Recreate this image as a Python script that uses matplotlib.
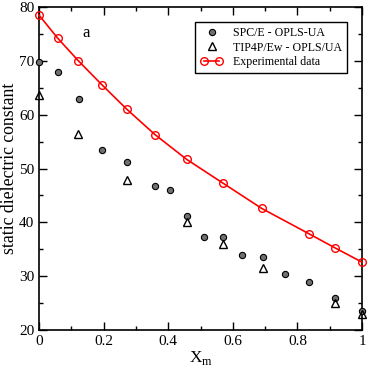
import matplotlib
matplotlib.use("Agg")
import matplotlib.pyplot as plt
from matplotlib.ticker import MultipleLocator
from matplotlib.legend_handler import HandlerLine2D

plt.rcParams['font.family'] = ['Liberation Serif', 'DejaVu Serif']
plt.rcParams['mathtext.fontset'] = 'custom'
plt.rcParams['mathtext.rm'] = 'Liberation Serif'

# experimental dielectric constant
x_exp = [0.0, 0.058, 0.122, 0.194, 0.272, 0.359, 0.457, 0.569, 0.689, 0.835, 0.915, 1.0]
eps_exp = [78.5, 74.2, 70.0, 65.6, 61.0, 56.3, 51.7, 47.3, 42.6, 37.9, 35.3, 32.6]

# SPC/E - OPLS-UA
x_spce = [0.0, 0.058, 0.125, 0.194, 0.271, 0.359, 0.405, 0.457, 0.511, 0.569, 0.627, 0.693, 0.761, 0.835, 0.915, 1.0]
eps_spce = [69.8, 68.0, 62.9, 53.4, 51.2, 46.8, 46.0, 41.2, 37.2, 37.2, 33.9, 33.6, 30.4, 28.9, 26.0, 23.6]

# TIP4P/Ew - OPLS/UA
x_tip = [0.0, 0.122, 0.272, 0.457, 0.569, 0.693, 0.915, 1.0]
eps_tip = [63.6, 56.5, 47.8, 40.1, 36.0, 31.5, 25.1, 23.0]

fig = plt.figure(figsize=(3.68, 3.70), dpi=100)
ax = fig.add_axes([0.106, 0.108, 0.878, 0.873])

ax.plot(x_spce, eps_spce, 'o', color='#707070', mec='black', mew=0.8, ms=4.5,
        ls='none', label='SPC/E - OPLS-UA', clip_on=False, zorder=3)
ax.plot(x_tip, eps_tip, '^', mfc='none', mec='black', mew=1.0, ms=6,
        ls='none', label='TIP4P/Ew - OPLS/UA', clip_on=False, zorder=3)
exp_line, = ax.plot(x_exp, eps_exp, 'o-', color='red', mfc='none', mec='red', mew=1.0,
                    ms=5.5, lw=1.2, label='Experimental data', clip_on=False, zorder=4)

ax.set_xlim(0, 1)
ax.set_ylim(20, 80)
ax.xaxis.set_major_locator(MultipleLocator(0.2))
ax.xaxis.set_minor_locator(MultipleLocator(0.1))
ax.yaxis.set_major_locator(MultipleLocator(10))
ax.yaxis.set_minor_locator(MultipleLocator(5))
ax.set_xticks([0, 0.2, 0.4, 0.6, 0.8, 1.0])
ax.set_xticklabels(['0', '0.2', '0.4', '0.6', '0.8', '1'])
ax.tick_params(which='both', direction='in', top=True, right=True, labelsize=11, width=1)
ax.tick_params(which='major', length=6)
ax.tick_params(which='minor', length=3)
for s in ax.spines.values():
    s.set_linewidth(1.2)

ax.set_xlabel('X$_{\\mathrm{m}}$', fontsize=12.5, labelpad=1)
ax.set_ylabel('static dielectric constant', fontsize=12.8, labelpad=1)
ax.text(0.145, 75.2, 'a', fontsize=12, ha='center', va='center')

leg = ax.legend(loc='upper right', bbox_to_anchor=(0.954, 0.954), fontsize=8.6,
                frameon=True, fancybox=False, edgecolor='black', framealpha=1,
                numpoints=1, handler_map={exp_line: HandlerLine2D(numpoints=2)},
                handlelength=1.85, borderpad=0.45, labelspacing=0.2, handletextpad=0.85,
                borderaxespad=0)
leg.get_frame().set_linewidth(1.0)

fig.savefig('out.png', dpi=100)
